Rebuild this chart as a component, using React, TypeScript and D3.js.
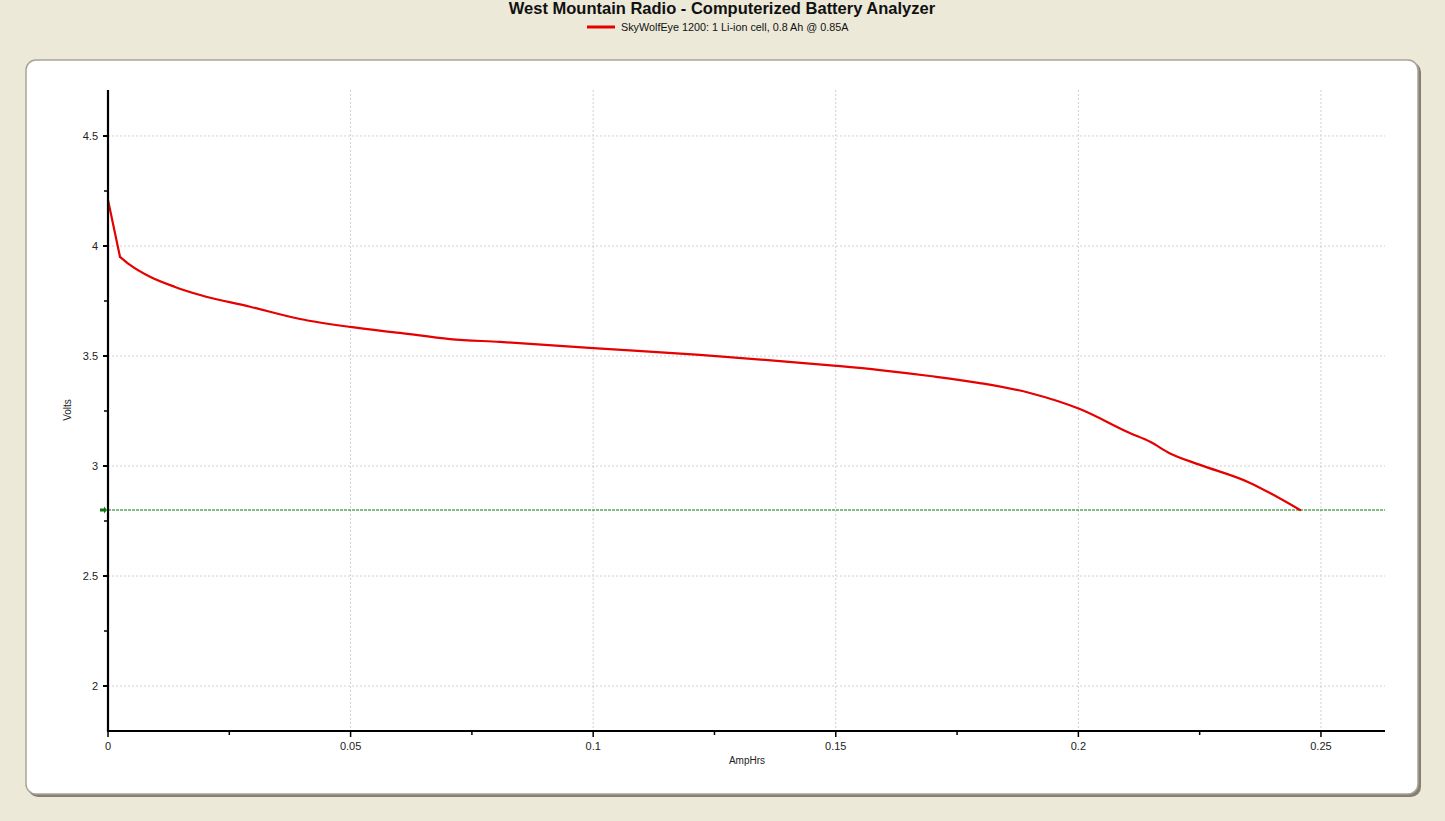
import React from "react";
import * as d3 from "d3";

const ampHrs = [0, 0.00247, 0.00453, 0.00866, 0.0138, 0.019, 0.0293, 0.0396, 0.0499, 0.0602, 0.0705, 0.0808, 0.1, 0.122, 0.1385, 0.1502, 0.1591, 0.1694, 0.1797, 0.19, 0.2003, 0.2106, 0.2148, 0.2189, 0.2251, 0.2354, 0.2395, 0.2457];
const volts = [4.209, 3.951, 3.914, 3.86, 3.814, 3.777, 3.724, 3.668, 3.632, 3.605, 3.577, 3.564, 3.536, 3.505, 3.477, 3.455, 3.436, 3.409, 3.377, 3.332, 3.259, 3.15, 3.11, 3.057, 3.005, 2.923, 2.877, 2.8];
const xTicks = [0, 0.05, 0.1, 0.15, 0.2, 0.25];
const xMinorTicks = [0.025, 0.075, 0.125, 0.175, 0.225];
const yTicks = [2, 2.5, 3, 3.5, 4, 4.5];
const yMinorTicks = [1.75, 2.25, 2.75, 3.25, 3.75, 4.25, 4.75];
const cutoffVolts = 2.8;
const title = "West Mountain Radio - Computerized Battery Analyzer";
const seriesName = "SkyWolfEye 1200: 1 Li-ion cell, 0.8 Ah @ 0.85A";

export default function App() {
  const W = 1445, H = 821;
  const x0 = 108, x1 = 1385, yTop = 90, yBot = 731;
  const x = d3.scaleLinear().domain([0, 0.2632]).range([x0, x1]);
  const y = d3.scaleLinear().domain([1.7955, 4.709]).range([yBot, yTop]);
  const pts = ampHrs.map((a, i) => [a, volts[i]] as [number, number]);
  const lineStraight = d3.line<[number, number]>().x(d => x(d[0])).y(d => y(d[1])).curve(d3.curveLinear);
  const lineSmooth = d3.line<[number, number]>().x(d => x(d[0])).y(d => y(d[1])).curve(d3.curveMonotoneX);
  const font = "'Liberation Sans', Arial, sans-serif";
  const yc = y(cutoffVolts);
  return (
    <svg width={W} height={H} style={{ position: "absolute", left: 0, top: 0, display: "block" }} fontFamily={font}>
      <rect x={0} y={0} width={W} height={H} fill="#ECE9D8" />
      <rect x={28} y={62} width={1393} height={735} rx={10} fill="#858072" />
      <rect x={26} y={60} width={1392} height={734} rx={10} fill="#fff" stroke="#a8a498" strokeWidth={1.5} />
      <text x={722} y={14} textAnchor="middle" fontSize={16.5} fontWeight="bold" fill="#111">{title}</text>
      <line x1={587} x2={615} y1={27} y2={27} stroke="#e60000" strokeWidth={3} />
      <text x={621} y={31} fontSize={10.8} fill="#111">{seriesName}</text>
      {yTicks.map(t => (
        <line key={"gy" + t} x1={x0} x2={x1} y1={y(t)} y2={y(t)} stroke="#d0d0d0" strokeWidth={1} strokeDasharray="2,2" />
      ))}
      {xTicks.filter(t => t > 0).map(t => (
        <line key={"gx" + t} x1={x(t)} x2={x(t)} y1={yTop} y2={yBot} stroke="#d0d0d0" strokeWidth={1} strokeDasharray="2,2" />
      ))}
      <line x1={x0} x2={x1} y1={yc} y2={yc} stroke="#0a7a0a" strokeWidth={1} strokeDasharray="3,1" />
      <path d={`M${x0 - 8},${yc - 1.5} L${x0 - 4},${yc - 1.5} L${x0 - 4},${yc - 3.5} L${x0 - 1},${yc} L${x0 - 4},${yc + 3.5} L${x0 - 4},${yc + 1.5} L${x0 - 8},${yc + 1.5} Z`} fill="#0a7a0a" />
      <path d={lineStraight(pts.slice(0, 2)) || ""} fill="none" stroke="#e60000" strokeWidth={2.2} strokeLinejoin="round" strokeLinecap="round" />
      <path d={lineSmooth(pts.slice(1)) || ""} fill="none" stroke="#e60000" strokeWidth={2.2} strokeLinejoin="round" strokeLinecap="round" />
      <line x1={x0} x2={x0} y1={yTop} y2={yBot + 1} stroke="#000" strokeWidth={2.2} />
      <line x1={x0 - 1} x2={x1} y1={yBot} y2={yBot} stroke="#000" strokeWidth={2.2} />
      {yTicks.map(t => (
        <g key={"yt" + t}>
          <line x1={x0 - 5} x2={x0} y1={y(t)} y2={y(t)} stroke="#000" strokeWidth={2} />
          <text x={x0 - 10} y={y(t) + 4} textAnchor="end" fontSize={11} fill="#222">{String(t)}</text>
        </g>
      ))}
      {yMinorTicks.filter(t => y(t) > yTop && y(t) < yBot).map(t => (
        <line key={"ym" + t} x1={x0 - 4} x2={x0} y1={y(t)} y2={y(t)} stroke="#000" strokeWidth={1.5} />
      ))}
      {xTicks.map(t => (
        <g key={"xt" + t}>
          <line x1={x(t)} x2={x(t)} y1={yBot} y2={yBot + 6} stroke="#000" strokeWidth={1.5} />
          <text x={x(t)} y={yBot + 19} textAnchor="middle" fontSize={11} fill="#222">{String(t)}</text>
        </g>
      ))}
      {xMinorTicks.map(t => (
        <line key={"xm" + t} x1={x(t)} x2={x(t)} y1={yBot} y2={yBot + 4} stroke="#000" strokeWidth={1.5} />
      ))}
      <text x={747} y={764} textAnchor="middle" fontSize={10} fill="#222">AmpHrs</text>
      <text transform={`translate(71,410) rotate(-90)`} textAnchor="middle" fontSize={10} fill="#222">Volts</text>
    </svg>
  );
}
